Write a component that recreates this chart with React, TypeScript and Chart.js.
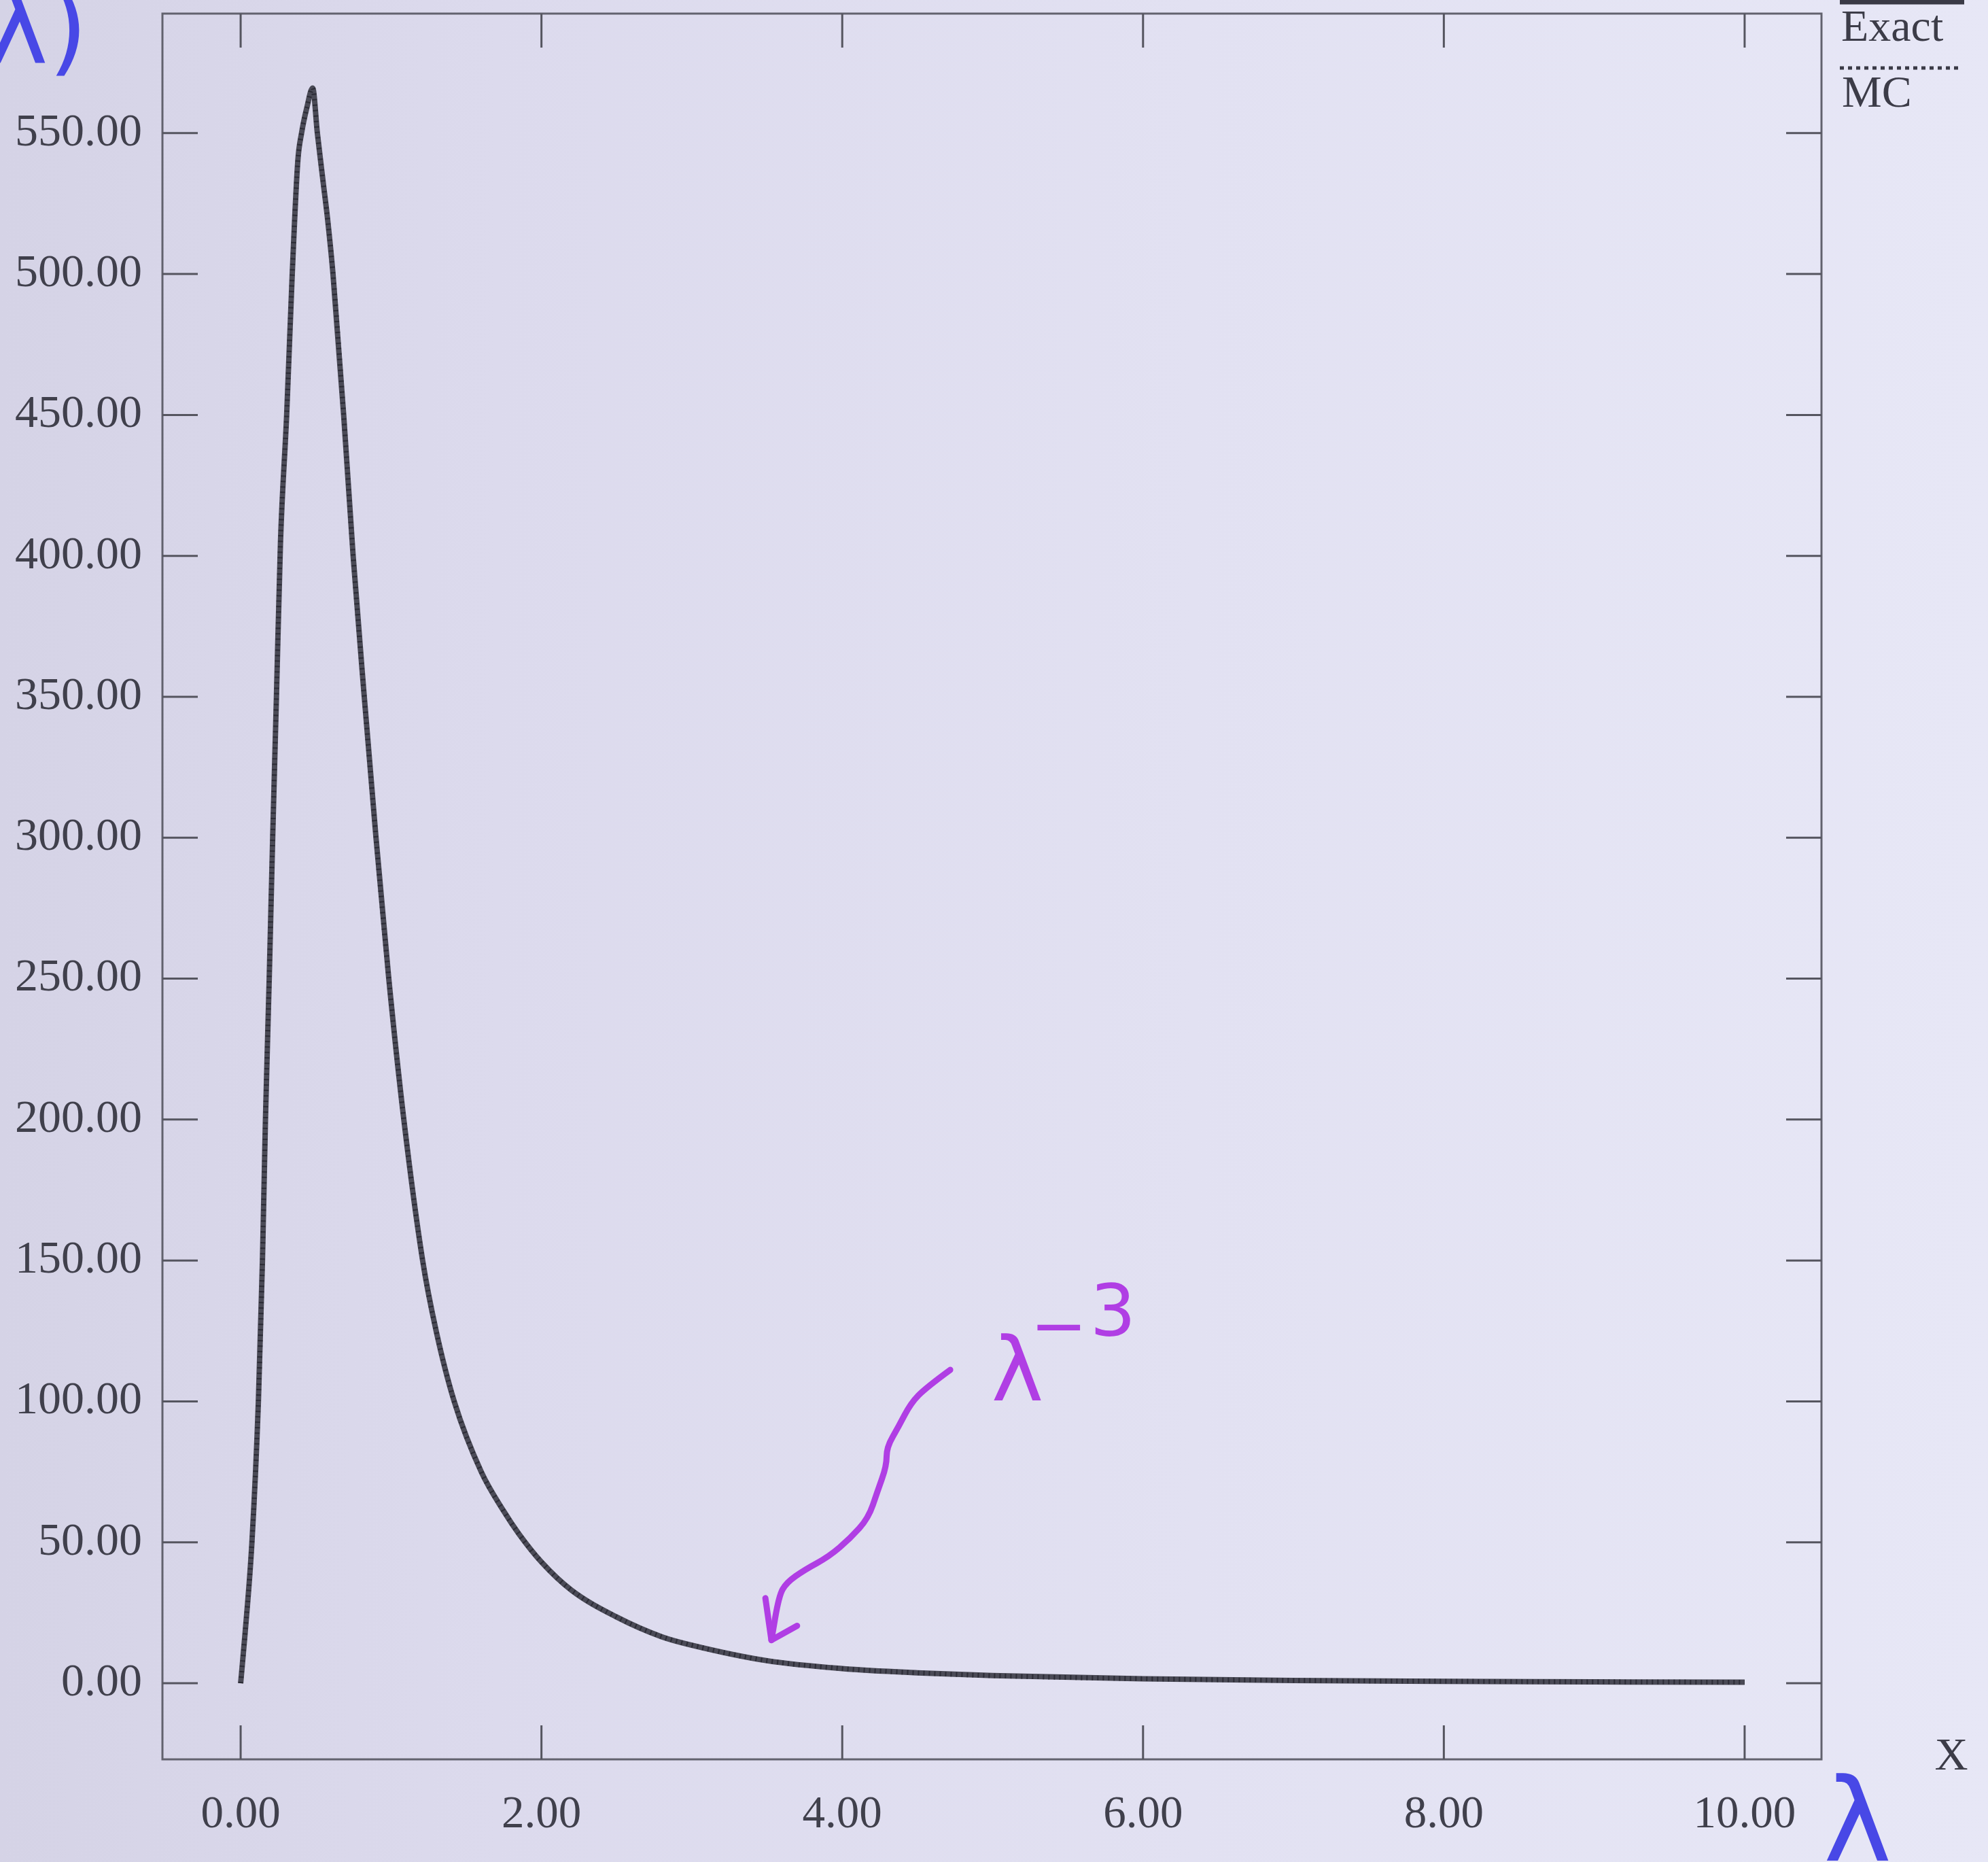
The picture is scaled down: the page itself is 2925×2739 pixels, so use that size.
import React, { useEffect, useRef } from 'react';
import { Chart, registerables } from 'chart.js';

Chart.register(...registerables);

// ---- data ----
const lambdaValues = [
  0, 0.03, 0.075, 0.118, 0.145, 0.165, 0.19, 0.213, 0.238, 0.265,
  0.306, 0.343, 0.38, 0.405, 0.44, 0.479, 0.51, 0.55, 0.577, 0.614,
  0.685, 0.748, 0.822, 0.9, 0.985, 1.085, 1.21, 1.3, 1.42, 1.6,
  1.75, 1.85, 2.0, 2.2, 2.5, 2.8, 3.0, 3.5, 4.0, 4.5,
  5.0, 6.0, 7.0, 8.0, 9.0, 10.0,
];
const exactValues = [
  0, 18, 50, 100, 150, 200, 250, 300, 350, 405,
  450, 500, 540, 550, 559, 566, 550, 532, 520, 500,
  450, 400, 350, 300, 250, 200, 150, 125, 100, 75,
  61, 53, 43, 33, 23.5, 16.5, 13.5, 8, 5.2, 3.7,
  2.7, 1.6, 1.0, 0.7, 0.5, 0.35,
];
const mcValues = [
  0, 18, 50, 100, 150, 200, 250, 300, 350, 405,
  450, 500, 540, 550, 559, 566, 550, 532, 520, 500,
  450, 400, 350, 300, 250, 200, 150, 125, 100, 75,
  61, 53, 43, 33, 23.5, 16.5, 13.5, 8, 5.2, 3.7,
  2.7, 1.6, 1.0, 0.7, 0.5, 0.35,
];
const seriesLabels = ['Exact', 'MC'];
const xTickValues = [0, 2, 4, 6, 8, 10];
const yTickValues = [0, 50, 100, 150, 200, 250, 300, 350, 400, 450, 500, 550];
const xAxisTitle = 'X';

// hand-written notes on the photo (positions in data units)
const noteTail = 'λ';
const noteTailMinus = '−';
const noteTailExp = '3';
const noteXHand = 'λ';
const noteYHand = 'λ)';
const arrowPath: [number, number][] = [
  [4.718, 111.2], [4.557, 104.9], [4.456, 99.4], [4.374, 91.0], [4.295, 83.7],
  [4.295, 77.2], [4.234, 68.0], [4.174, 58.6], [4.053, 51.4], [3.911, 44.9],
  [3.751, 40.3], [3.629, 35.7], [3.579, 31.0], [3.529, 15.3],
];
const arrowHeadLeft: [number, number] = [3.489, 30.2];
const arrowHeadRight: [number, number] = [3.7, 20.4];

const SERIF = '"Liberation Serif", "Times New Roman", serif';
const HAND = '"DejaVu Sans", sans-serif';
const MAGENTA = '#b03ee4';
const BLUE = '#4848e6';
const TEXT = '#40404c';

const decorPlugin = {
  id: 'decor',
  afterDatasetsDraw(chart: any) {
    const { ctx, chartArea: a, scales } = chart;
    const xs = scales.x;
    const ys = scales.y;
    ctx.save();
    // frame
    ctx.strokeStyle = '#62626e';
    ctx.lineWidth = 3;
    ctx.strokeRect(a.left, a.top, a.right - a.left, a.bottom - a.top);
    // inward ticks on all four sides
    ctx.strokeStyle = '#55555f';
    ctx.lineWidth = 3;
    const seg = (x1: number, y1: number, x2: number, y2: number) => {
      ctx.beginPath();
      ctx.moveTo(x1, y1);
      ctx.lineTo(x2, y2);
      ctx.stroke();
    };
    xTickValues.forEach((v) => {
      const px = xs.getPixelForValue(v);
      seg(px, a.bottom, px, a.bottom - 50);
      seg(px, a.top, px, a.top + 50);
    });
    yTickValues.forEach((v) => {
      const py = ys.getPixelForValue(v);
      seg(a.left, py, a.left + 52, py);
      seg(a.right - 52, py, a.right, py);
    });
    ctx.restore();
  },
  afterDraw(chart: any) {
    const { ctx, chartArea: a, scales } = chart;
    const xs = scales.x;
    const ys = scales.y;
    const ds = chart.data.datasets;
    ctx.save();
    // legend (line sample above each label)
    const lx = a.right + 27;
    ctx.lineCap = 'butt';
    ctx.strokeStyle = '#3a3a46';
    ctx.lineWidth = 7;
    ctx.beginPath();
    ctx.moveTo(lx, 3);
    ctx.lineTo(lx + 183, 3);
    ctx.stroke();
    ctx.lineWidth = 5;
    ctx.setLineDash([6, 6]);
    ctx.beginPath();
    ctx.moveTo(lx, 100);
    ctx.lineTo(lx + 180, 100);
    ctx.stroke();
    ctx.setLineDash([]);
    ctx.fillStyle = '#3c3c48';
    ctx.font = `66px ${SERIF}`;
    ctx.textAlign = 'left';
    ctx.textBaseline = 'alphabetic';
    ctx.fillText(ds[0].label, lx + 2, 60);
    ctx.fillText(ds[1].label, lx + 3, 157);
    // axis title X
    ctx.font = `68px ${SERIF}`;
    ctx.textAlign = 'center';
    ctx.fillText(xAxisTitle, a.right + 191, 2603);

    // hand-written blue notes
    ctx.fillStyle = BLUE;
    ctx.font = `170px ${HAND}`;
    ctx.textAlign = 'center';
    ctx.fillText(noteXHand, a.right + 53, 2737);
    ctx.font = `150px ${HAND}`;
    ctx.textAlign = 'left';
    ctx.fillText(noteYHand, -18, 92);

    // hand-written magenta note with squiggly arrow
    ctx.fillStyle = MAGENTA;
    ctx.font = `130px ${HAND}`;
    ctx.textAlign = 'center';
    ctx.fillText(noteTail, xs.getPixelForValue(5.165), ys.getPixelForValue(100.4));
    ctx.font = `100px ${HAND}`;
    ctx.fillText(noteTailMinus, xs.getPixelForValue(5.44), ys.getPixelForValue(127) + 34);
    ctx.font = `106px ${HAND}`;
    ctx.fillText(noteTailExp, xs.getPixelForValue(5.8), ys.getPixelForValue(123.3));

    const P = (p: [number, number]) => [xs.getPixelForValue(p[0]), ys.getPixelForValue(p[1])];
    ctx.strokeStyle = MAGENTA;
    ctx.lineWidth = 9;
    ctx.lineCap = 'round';
    ctx.lineJoin = 'round';
    ctx.beginPath();
    const pts = arrowPath.map(P);
    ctx.moveTo(pts[0][0], pts[0][1]);
    for (let i = 1; i < pts.length - 1; i++) {
      const mx = (pts[i][0] + pts[i + 1][0]) / 2;
      const my = (pts[i][1] + pts[i + 1][1]) / 2;
      ctx.quadraticCurveTo(pts[i][0], pts[i][1], mx, my);
    }
    const tip = pts[pts.length - 1];
    ctx.lineTo(tip[0], tip[1]);
    ctx.stroke();
    const hl = P(arrowHeadLeft);
    const hr = P(arrowHeadRight);
    ctx.beginPath();
    ctx.moveTo(hl[0], hl[1]);
    ctx.lineTo(tip[0], tip[1]);
    ctx.lineTo(hr[0], hr[1]);
    ctx.stroke();
    ctx.restore();
  },
};

export default function App() {
  const ref = useRef<HTMLCanvasElement>(null);
  useEffect(() => {
    document.body.style.margin = '0';
    const canvas = ref.current!;
    const chart = new Chart(canvas, {
      type: 'line',
      data: {
        datasets: [
          {
            label: seriesLabels[0],
            data: lambdaValues.map((x, i) => ({ x, y: exactValues[i] })),
            borderColor: '#4a4a56',
            borderWidth: 8,
            pointRadius: 0,
            cubicInterpolationMode: 'monotone',
            fill: false,
            order: 2,
          },
          {
            label: seriesLabels[1],
            data: lambdaValues.map((x, i) => ({ x, y: mcValues[i] })),
            borderColor: '#2c2c36',
            borderWidth: 7,
            borderDash: [2, 6],
            pointRadius: 0,
            cubicInterpolationMode: 'monotone',
            fill: false,
            order: 1,
          },
        ],
      },
      options: {
        animation: false,
        responsive: false,
        maintainAspectRatio: false,
        layout: { padding: { top: 20, right: 245, left: 0, bottom: 0 } },
        plugins: { legend: { display: false }, tooltip: { enabled: false } },
        scales: {
          x: {
            type: 'linear',
            min: -0.52,
            max: 10.511,
            grid: { display: false, drawTicks: false },
            border: { display: false },
            afterBuildTicks: (s: any) => {
              s.ticks = xTickValues.map((v) => ({ value: v }));
            },
            afterFit: (s: any) => {
              s.height = 151;
              s.paddingLeft = 0;
              s.paddingRight = 0;
            },
            ticks: {
              padding: 42,
              autoSkip: false,
              maxRotation: 0,
              color: TEXT,
              font: { family: SERIF, size: 67 },
              callback: (v: any) => Number(v).toFixed(2),
            },
          },
          y: {
            type: 'linear',
            min: -27,
            max: 592.4,
            grid: { display: false, drawTicks: false },
            border: { display: false },
            afterBuildTicks: (s: any) => {
              s.ticks = yTickValues.map((v) => ({ value: v }));
            },
            afterFit: (s: any) => {
              s.width = 239;
              s.paddingTop = 0;
              s.paddingBottom = 0;
            },
            ticks: {
              padding: 30,
              autoSkip: false,
              color: TEXT,
              font: { family: SERIF, size: 68 },
              callback: (v: any) => Number(v).toFixed(2),
            },
          },
        },
      },
      plugins: [decorPlugin],
    } as any);
    return () => chart.destroy();
  }, []);

  return (
    <div
      style={{
        position: 'relative',
        width: 2925,
        height: 2739,
        overflow: 'hidden',
        background:
          'linear-gradient(90deg, #d5d3e6 0%, #dcdaed 25%, #e2e1f2 60%, #e7e7f6 100%)',
      }}
    >
      <canvas ref={ref} width={2925} height={2739} style={{ display: 'block' }} />
    </div>
  );
}
